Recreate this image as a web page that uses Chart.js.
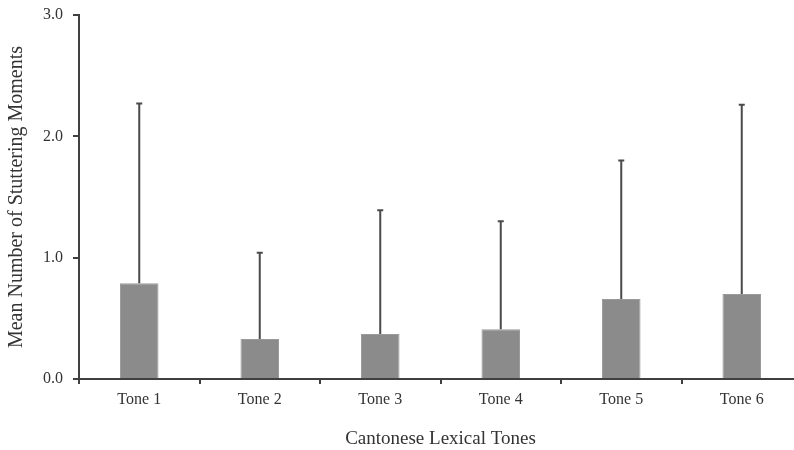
<!DOCTYPE html>
<html>
<head>
<meta charset="utf-8">
<script src="https://cdn.jsdelivr.net/npm/chart.js@4"></script>
<style>
  html, body { margin: 0; padding: 0; background: #fff; overflow: hidden; }
  #wrap { position: relative; width: 820px; height: 450px; }
</style>
</head>
<body>
<div id="wrap"><canvas id="chart"></canvas></div>
<script>
// data
const tones = ['Tone 1', 'Tone 2', 'Tone 3', 'Tone 4', 'Tone 5', 'Tone 6'];
const means = [0.79, 0.33, 0.37, 0.41, 0.66, 0.70];
const sds = [1.48, 0.71, 1.02, 0.89, 1.14, 1.56];
const yTicks = [0, 1, 2, 3];

const axisColor = '#404040';
const serif = "'Liberation Serif', 'Times New Roman', serif";

// upper error bars (mean + sd), drawn through the scales
const errorBars = {
  id: 'errorBars',
  afterDatasetsDraw(chart) {
    const ctx = chart.ctx;
    const meta = chart.getDatasetMeta(0);
    const y = chart.scales.y;
    ctx.save();
    ctx.strokeStyle = '#4a4a4a';
    ctx.lineWidth = 2;
    meta.data.forEach((bar, i) => {
      const top = y.getPixelForValue(means[i] + sds[i]);
      const base = y.getPixelForValue(means[i]);
      ctx.beginPath();
      ctx.moveTo(bar.x, base);
      ctx.lineTo(bar.x, top);
      ctx.moveTo(bar.x - 3, top);
      ctx.lineTo(bar.x + 3, top);
      ctx.stroke();
    });
    ctx.restore();
  }
};

new Chart(document.getElementById('chart'), {
  type: 'bar',
  data: {
    labels: tones,
    datasets: [{
      data: means,
      backgroundColor: '#8b8b8b',
      borderColor: '#9a9a9a',
      borderWidth: 1,
      barPercentage: 0.32,
      categoryPercentage: 1
    }]
  },
  options: {
    responsive: true,
    maintainAspectRatio: false,
    animation: false,
    layout: { padding: { top: 0, right: 18, left: 0, bottom: 0 } },
    plugins: {
      legend: { display: false },
      tooltip: { enabled: false }
    },
    scales: {
      x: {
        offset: true,
        afterFit(scale) { scale.height = 71; },
        grid: {
          offset: true,
          drawOnChartArea: false,
          color: axisColor,
          lineWidth: 2,
          tickLength: 5
        },
        border: { color: axisColor, width: 2 },
        ticks: {
          color: '#333',
          font: { family: serif, size: 16 },
          padding: 6
        },
        title: {
          display: true,
          text: 'Cantonese Lexical Tones',
          color: '#333',
          font: { family: serif, size: 19 },
          padding: { top: 0, bottom: 0 }
        }
      },
      y: {
        min: 0,
        max: 3,
        afterFit(scale) { scale.width = 79; scale.paddingTop = 15; },
        afterBuildTicks(scale) {
          scale.ticks = yTicks.map(v => ({ value: v }));
        },
        grid: {
          drawOnChartArea: false,
          color: axisColor,
          lineWidth: 2,
          tickLength: 6
        },
        border: { color: axisColor, width: 2 },
        ticks: {
          color: '#333',
          font: { family: serif, size: 16 },
          padding: 10,
          callback: v => v.toFixed(1)
        },
        title: {
          display: true,
          text: 'Mean Number of Stuttering Moments',
          color: '#333',
          font: { family: serif, size: 20 },
          padding: { top: 5, bottom: 0 }
        }
      }
    }
  },
  plugins: [errorBars]
});
</script>
</body>
</html>
